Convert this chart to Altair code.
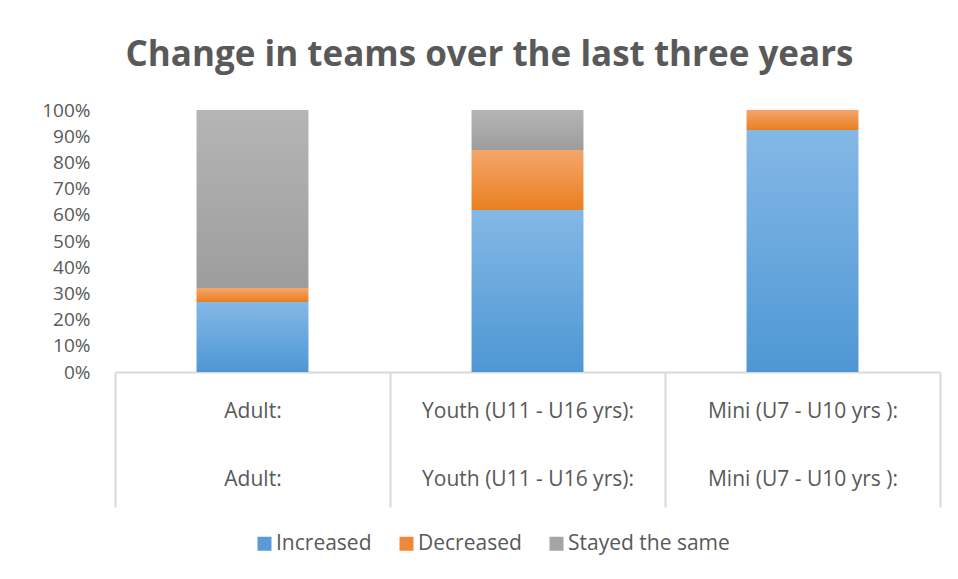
import altair as alt
import pandas as pd

categories = ["Adult:", "Youth (U11 - U16 yrs):", "Mini (U7 - U10 yrs ):"]
series = ["Increased", "Decreased", "Stayed the same"]
increased = [26.7, 61.8, 92.4]
decreased = [5.4, 22.9, 7.6]
stayed = [67.9, 15.3, 0.0]
y_ticks = [0, 0.1, 0.2, 0.3, 0.4, 0.5, 0.6, 0.7, 0.8, 0.9, 1.0]

rows = []
for i, c in enumerate(categories):
    for j, (s, vals) in enumerate(zip(series, [increased, decreased, stayed])):
        rows.append({"cat": c, "series": s, "order": j, "value": vals[i]})
df = pd.DataFrame(rows)

FONT = "Open Sans"
TXT = "#595959"
solid = {"Increased": "#5b9bd5", "Decreased": "#f0883a", "Stayed the same": "#a5a5a5"}
grad_stops = {
    "Increased": ("#84b8e6", "#4e97d4"),
    "Decreased": ("#f5a56c", "#e9801f"),
    "Stayed the same": ("#b5b5b5", "#9d9d9d"),
}

x_axis = alt.Axis(
    labelAngle=0,
    tickBand="extent",
    tickSize=135,
    tickWidth=2,
    tickColor="#d9d9d9",
    domainColor="#d9d9d9",
    domainWidth=2,
    labelPadding=-107,
    labelExpr="[datum.label, datum.label]",
    labelLineHeight=68,
    labelFontSize=21,
    labelFont=FONT,
    labelColor=TXT,
    labelLimit=0,
)
x_scale = alt.Scale(paddingInner=0, paddingOuter=0)
x_enc = alt.X("cat:N", sort=categories, scale=x_scale, title=None, axis=x_axis)

y_axis = alt.Axis(
    values=y_ticks,
    format=".0%",
    domain=False,
    ticks=False,
    grid=False,
    labelFontSize=19,
    labelFont=FONT,
    labelColor=TXT,
    labelPadding=25,
    labelOverlap=False,
)
y_scale = alt.Scale(domain=[0, 1])

base = alt.Chart(df).transform_stack(
    stack="value",
    groupby=["cat"],
    as_=["y0", "y1"],
    offset="normalize",
    sort=[alt.SortField("order", "ascending")],
)

layers = []
for k, s in enumerate(series):
    top, bot = grad_stops[s]
    g = alt.Gradient(
        gradient="linear",
        stops=[alt.GradientStop(color=top, offset=0), alt.GradientStop(color=bot, offset=1)],
        x1=0, x2=0, y1=0, y2=1,
    )
    layers.append(
        base.transform_filter(alt.datum.series == s)
        .mark_bar(fill=g, width={"band": 0.407})
        .encode(
            x=x_enc,
            y=alt.Y("y0:Q", scale=y_scale, title=None, axis=y_axis),
            y2="y1:Q",
        )
    )

legend_layer = (
    alt.Chart(df)
    .mark_bar(width={"band": 0.407})
    .encode(
        x=x_enc,
        y=alt.Y(datum=0, scale=y_scale, title=None, axis=y_axis),
        y2=alt.Y2(datum=0),
        color=alt.Color(
            "series:N",
            sort=series,
            scale=alt.Scale(domain=series, range=[solid[s] for s in series]),
            legend=alt.Legend(
                title=None,
                orient="none",
                legendX=139,
                legendY=423,
                direction="horizontal",
                symbolType="square",
                symbolSize=196,
                symbolStrokeWidth=0,
                labelFontSize=21,
                labelFont=FONT,
                labelColor=TXT,
                labelOffset=1,
                columnPadding=24,
                labelLimit=0,
            ),
        ),
    )
)

chart = (
    alt.layer(*layers, legend_layer)
    .properties(
        width=825,
        height=262,
        autosize=alt.AutoSizeParams(type="none"),
        padding={"left": 107, "top": 102, "right": 2, "bottom": 199},
        title=alt.TitleParams(
            "Change in teams over the last three years",
            font=FONT,
            fontSize=35,
            fontWeight="bold",
            color=TXT,
            anchor="middle",
            dx=-38,
            offset=28,
        ),
    )
    .configure_view(stroke=None)
)

chart.save("out.html", embed_options={"renderer": "svg", "actions": False})
